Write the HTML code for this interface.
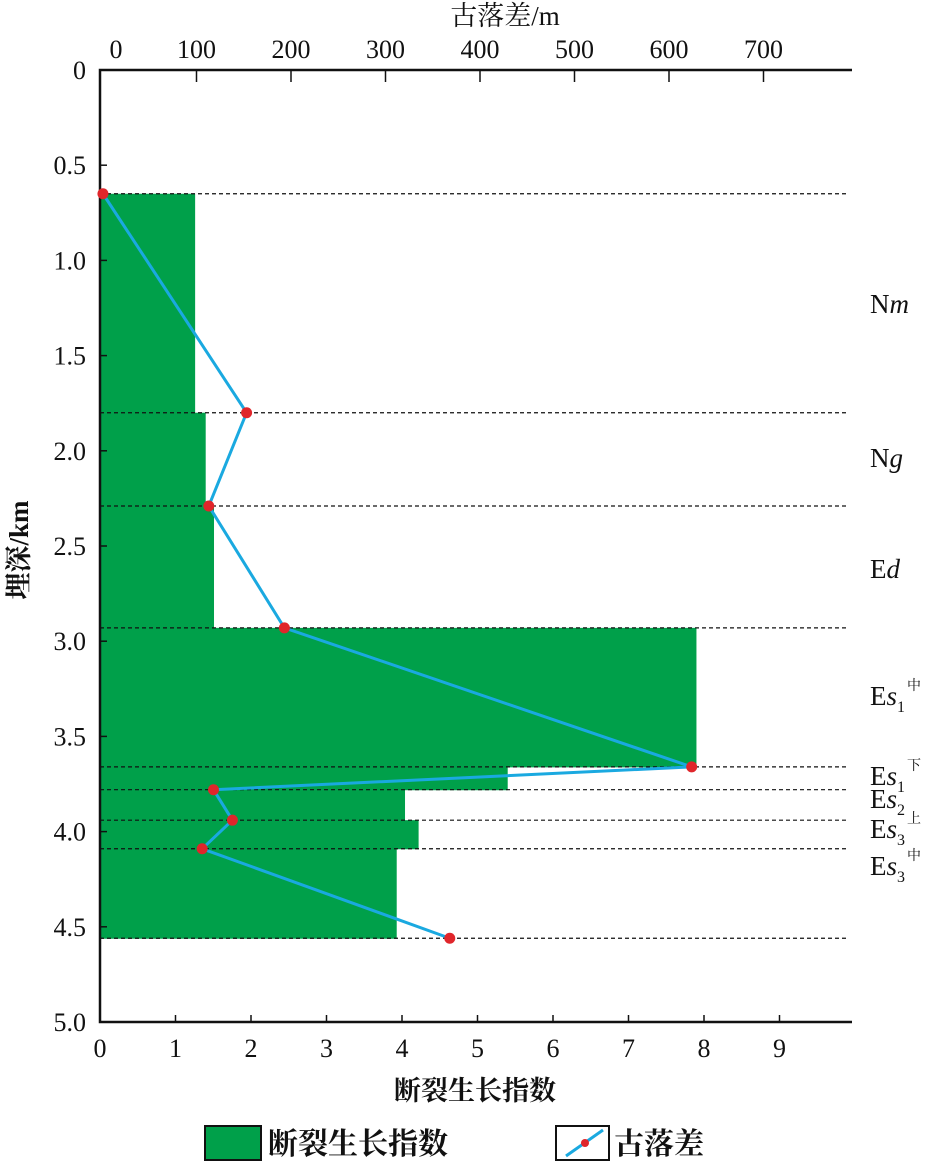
<!DOCTYPE html>
<html><head><meta charset="utf-8">
<style>
body{margin:0;background:#fff;}
svg text{font-family:"Liberation Serif","Noto Serif CJK SC","Noto Sans CJK SC",serif;fill:#111;}
</style></head>
<body>
<svg id="chart" width="935" height="1162" viewBox="0 0 935 1162" xmlns="http://www.w3.org/2000/svg">
<g id="bars"></g>
<g id="dashes"></g>
<g id="axes"></g>
<g id="line"></g>
<text x="505" y="25" font-size="27" text-anchor="middle">古落差/m</text>
<text x="0" y="0" font-size="27" text-anchor="middle" font-weight="bold" transform="translate(28,550) rotate(-90)">埋深/km</text>
<text x="475" y="1100" font-size="27" text-anchor="middle" font-weight="bold">断裂生长指数</text>
<g>
<rect x="205" y="1126" width="56" height="34" fill="#00a04a" stroke="#111" stroke-width="2"/>
<text x="268" y="1154" font-size="30" font-weight="bold">断裂生长指数</text>
<rect x="556" y="1126" width="53" height="34" fill="#fff" stroke="#111" stroke-width="2"/>
<line x1="566" y1="1156" x2="603" y2="1130" stroke="#1aa9e0" stroke-width="3"/>
<circle cx="585" cy="1143" r="4" fill="#e0262b"/>
<text x="614" y="1154" font-size="30" font-weight="bold">古落差</text>
</g>
<g id="labels"></g>
</svg>
<script>
const depthTops=[0.65,1.80,2.29,2.93,3.66,3.78,3.94,4.09];
const depthBottoms=[1.80,2.29,2.93,3.66,3.78,3.94,4.09,4.56];
const growthIndex=[1.26,1.40,1.51,7.9,5.4,4.04,4.22,3.93];
const throwDepths=[0.65,1.80,2.29,2.93,3.66,3.78,3.94,4.09,4.56];
const throwValues=[1,153,113,193,624,118,138,106,368];
const boundaries=[0.65,1.80,2.29,2.93,3.66,3.78,3.94,4.09,4.56];
const yTicks=[0,0.5,1.0,1.5,2.0,2.5,3.0,3.5,4.0,4.5,5.0];
const xTicks=[0,1,2,3,4,5,6,7,8,9];
const topTicks=[0,100,200,300,400,500,600,700];
const NS="http://www.w3.org/2000/svg";
const X0=100,X1=850,Y0=70,Y1=1022;
const yS=d=>Y0+d*(Y1-Y0)/5;
const xS=v=>X0+v*75.5;
const tS=v=>102+v*0.945;
function mk(tag,attrs,parent){const e=document.createElementNS(NS,tag);for(const k in attrs)e.setAttribute(k,attrs[k]);document.getElementById(parent).appendChild(e);return e;}
growthIndex.forEach((v,i)=>{
 const r=mk('rect',{x:X0,y:yS(depthTops[i]),width:xS(v)-X0,height:yS(depthBottoms[i])-yS(depthTops[i])+0.5,fill:'#00a04a'},'bars');
 
 
});
boundaries.forEach((d,i)=>{
 const l=mk('line',{x1:X0,x2:848,y1:yS(d),y2:yS(d),stroke:'#111','stroke-width':1.2,'stroke-dasharray':'4,3'},'dashes');
 
 
});
// axes
mk('path',{d:`M${X1+2},${Y0}H${X0}V${Y1}H${X1+2}`,fill:'none',stroke:'#111','stroke-width':2.5},'axes');
yTicks.forEach(t=>{
 mk('line',{x1:X0,x2:X0+7,y1:yS(t),y2:yS(t),stroke:'#111','stroke-width':1.5},'axes');
 const tx=mk('text',{x:86,y:yS(t)+9,'font-size':26,'text-anchor':'end'},'axes');
 tx.textContent=t===0?'0':t.toFixed(1);
 
 
});
xTicks.forEach(t=>{
 if(t>0)mk('line',{x1:xS(t),x2:xS(t),y1:Y1,y2:Y1-7,stroke:'#111','stroke-width':1.5},'axes');
 const tx=mk('text',{x:xS(t),y:1057,'font-size':26,'text-anchor':'middle'},'axes');
 tx.textContent=t;
 
 
});
topTicks.forEach(t=>{
 if(t>0)mk('line',{x1:tS(t),x2:tS(t),y1:Y0,y2:Y0+12,stroke:'#111','stroke-width':1.5},'axes');
 const tx=mk('text',{x:t===0?tS(t)+14:tS(t),y:58,'font-size':26,'text-anchor':'middle'},'axes');
 tx.textContent=t;
 
 
});
const pts=throwValues.map((v,i)=>tS(v)+','+yS(throwDepths[i])).join(' ');
const pl=mk('polyline',{points:pts,fill:'none',stroke:'#1aa9e0','stroke-width':3},'line');


throwValues.forEach((v,i)=>{
 const c=mk('circle',{cx:tS(v),cy:yS(throwDepths[i]),r:5.5,fill:'#e0262b'},'line');
 
 
});
const labs=[["N","m","",313],["N","g","",467],["E","d","",578],["E","s","1","中",705],["E","s","1","下",785],["E","s","2","",808],["E","s","3","上",838],["E","s","3","中",875]];
labs.forEach(l=>{
 let sub,sup,y;
 if(l.length===4){sub='';sup='';y=l[3];}else{sub=l[2];sup=l[3];y=l[4];}
 const t=mk('text',{x:870,y:y,'font-size':27},'labels');
 
 
 t.innerHTML=`${l[0]}<tspan font-style="italic">${l[1]}</tspan>`+(sub?`<tspan font-size="16" dy="7">${sub}</tspan>`:'')+(sup?`<tspan font-size="14" dy="-22" dx="2">${sup}</tspan>`:'');
});
</script>
</body></html>
